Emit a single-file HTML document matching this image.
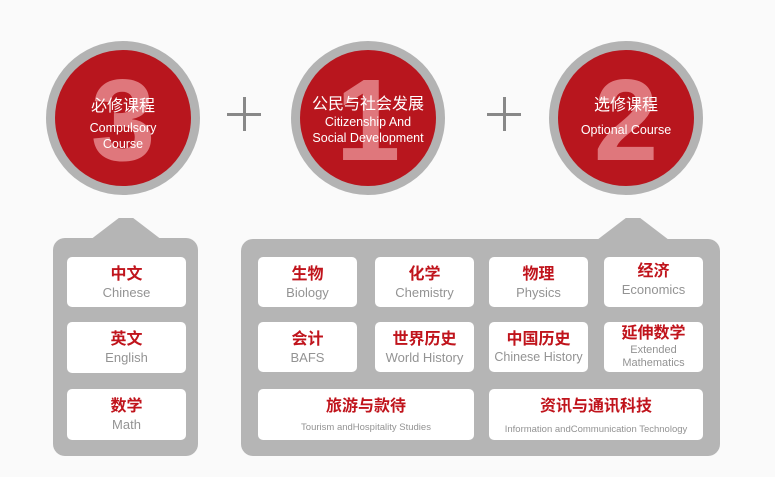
<!DOCTYPE html>
<html><head><meta charset="utf-8"><style>
body{margin:0;width:775px;height:477px;background:#fafafa;position:relative;overflow:hidden;font-family:"Liberation Sans","Noto Sans CJK SC",sans-serif}
.c{position:absolute;width:154px;height:154px;border-radius:50%;background:#b3b3b3;top:41px}
.c .in{position:absolute;left:9px;top:9px;width:136px;height:136px;border-radius:50%;background:#b8161e;overflow:hidden}
.c .num{position:absolute;left:0;right:0;top:12px;text-align:center;font-size:116px;font-weight:bold;color:#df777c;line-height:116px}
.c .t{position:absolute;left:0;right:0;text-align:center;color:#fff}
.c .zh{font-size:16px}
.c .en{font-size:12.5px;line-height:16px}
.plus{position:absolute;width:34px;height:34px}
.plus:before{content:"";position:absolute;left:0;top:16px;width:34px;height:3px;background:#888}
.plus:after{content:"";position:absolute;left:16px;top:0;width:3px;height:34px;background:#888}
.p{position:absolute;background:#b5b5b5;border-radius:12px}
.tab{position:absolute;background:#b5b5b5;clip-path:polygon(0 100%,40% 0,60% 0,100% 100%);border-radius:4px}
.k{position:absolute;background:#fff;border-radius:5px;text-align:center}
.k b{display:block;color:#c0141c;font-size:16px;margin-top:8px;line-height:20px}
.k span{display:block;color:#939393;font-size:13px;line-height:15px}
</style></head><body>
<div class="c" style="left:46px"><div class="in"><div class="num">3</div>
<div class="t zh" style="top:42px">必修课程</div><div class="t en" style="top:70px">Compulsory<br>Course</div></div></div>
<div class="c" style="left:291px"><div class="in"><div class="num">1</div>
<div class="t zh" style="top:40px">公民与社会发展</div><div class="t en" style="top:64px">Citizenship And<br>Social Development</div></div></div>
<div class="c" style="left:549px"><div class="in"><div class="num">2</div>
<div class="t zh" style="top:41px">选修课程</div><div class="t en" style="top:72px">Optional Course</div></div></div>
<div class="plus" style="left:227px;top:97px"></div>
<div class="plus" style="left:487px;top:97px"></div>

<div class="tab" style="left:90px;top:218px;width:72px;height:22px"></div>
<div class="p" style="left:53px;top:238px;width:145px;height:218px"></div>
<div class="tab" style="left:597px;top:218px;width:72px;height:22px"></div>
<div class="p" style="left:241px;top:239px;width:479px;height:217px"></div>

<div class="k" style="left:67px;top:257px;width:119px;height:50px"><b>中文</b><span>Chinese</span></div>
<div class="k" style="left:67px;top:322px;width:119px;height:51px"><b>英文</b><span>English</span></div>
<div class="k" style="left:67px;top:389px;width:119px;height:51px"><b>数学</b><span>Math</span></div>

<div class="k" style="left:258px;top:257px;width:99px;height:50px"><b>生物</b><span>Biology</span></div>
<div class="k" style="left:375px;top:257px;width:99px;height:50px"><b>化学</b><span>Chemistry</span></div>
<div class="k" style="left:489px;top:257px;width:99px;height:50px"><b>物理</b><span>Physics</span></div>
<div class="k" style="left:604px;top:257px;width:99px;height:50px"><b style="margin-top:5px">经济</b><span>Economics</span></div>
<div class="k" style="left:258px;top:322px;width:99px;height:50px"><b>会计</b><span>BAFS</span></div>
<div class="k" style="left:375px;top:322px;width:99px;height:50px"><b>世界历史</b><span>World History</span></div>
<div class="k" style="left:489px;top:322px;width:99px;height:50px"><b>中国历史</b><span style="font-size:12.5px">Chinese History</span></div>
<div class="k" style="left:604px;top:322px;width:99px;height:50px"><b style="margin-top:2px">延伸数学</b><span style="font-size:11px;line-height:13px">Extended<br>Mathematics</span></div>
<div class="k" style="left:258px;top:389px;width:216px;height:51px"><b style="margin-top:8px">旅游与款待</b><span style="font-size:9.5px;margin-top:3px">Tourism andHospitality Studies</span></div>
<div class="k" style="left:489px;top:389px;width:214px;height:51px"><b style="margin-top:8px">资讯与通讯科技</b><span style="font-size:9.5px;margin-top:5px">Information andCommunication Technology</span></div>
</body></html>
